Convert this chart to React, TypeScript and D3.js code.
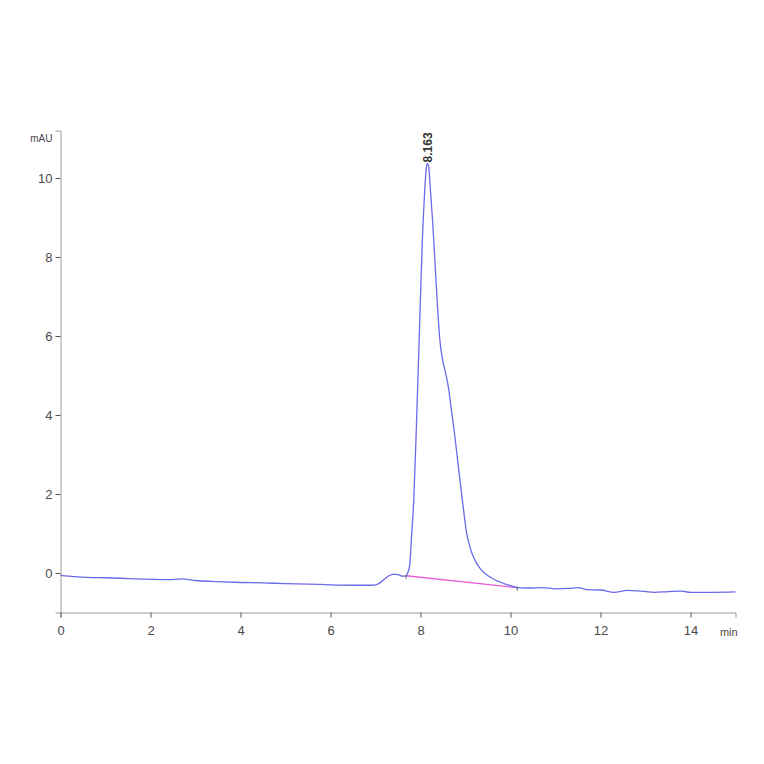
import React, { useEffect, useRef } from "react";
import * as d3 from "d3";

// Chromatogram data (time in min, signal in mAU)
const times: number[] = [
  0, 0.3, 0.6, 1.0, 1.5, 2.0, 2.4, 2.7, 3.0, 3.5, 4.0, 4.5, 5.0, 5.5, 6.0, 6.5, 6.9,
  7.0, 7.1, 7.2, 7.3, 7.4, 7.5, 7.6, 7.68,
  7.72, 7.76, 7.80, 7.85, 7.90, 7.97, 8.04, 8.09, 8.12, 8.15, 8.18, 8.22, 8.27, 8.32, 8.37,
  8.43, 8.50, 8.56, 8.62, 8.69, 8.76, 8.84, 8.93, 9.02, 9.10, 9.22, 9.35, 9.50, 9.65, 9.84, 10.0, 10.15,
  10.4, 10.7, 11.0, 11.3, 11.5, 11.7, 12.0, 12.3, 12.6, 12.9, 13.2, 13.5, 13.8, 14.0, 14.5, 15.0,
];
const signal: number[] = [
  -0.06, -0.09, -0.11, -0.12, -0.14, -0.16, -0.17, -0.15, -0.19, -0.22, -0.24, -0.25, -0.27, -0.28, -0.30, -0.31, -0.31,
  -0.30, -0.25, -0.15, -0.07, -0.03, -0.04, -0.08, -0.07,
  0.02, 0.2, 0.9, 1.85, 3.4, 5.9, 8.4, 9.6, 10.15, 10.37, 10.3, 9.7, 8.9, 7.9, 6.9,
  5.9, 5.35, 5.05, 4.7, 4.1, 3.5, 2.7, 1.85, 1.05, 0.65, 0.3, 0.08, -0.07, -0.17, -0.26, -0.32, -0.37,
  -0.38, -0.37, -0.40, -0.39, -0.37, -0.42, -0.43, -0.49, -0.44, -0.46, -0.49, -0.47, -0.46, -0.49, -0.49, -0.48,
];

// Integration baseline of the peak
const baseTimes: number[] = [7.68, 10.15];
const baseValues: number[] = [-0.07, -0.37];

// Peak annotation
const peakTime = 8.163;
const peakHeight = 10.37;
const peakLabel = "8.163";

const xMajorTicks: number[] = [0, 2, 4, 6, 8, 10, 12, 14];
const xMinorTicks: number[] = [0.5, 1, 1.5, 2.5, 3, 3.5, 4.5, 5, 5.5, 6.5, 7, 7.5, 8.5, 9, 9.5, 10.5, 11, 11.5, 12.5, 13, 13.5, 14.5, 15];
const yMajorTicks: number[] = [0, 2, 4, 6, 8, 10];
const yMinorTicks: number[] = [-1, -0.5, 0.5, 1, 1.5, 2.5, 3, 3.5, 4.5, 5, 5.5, 6.5, 7, 7.5, 8.5, 9, 9.5, 10.5, 11];
const yUnit = "mAU";
const xUnit = "min";

const FONT = "'Liberation Sans Narrow', 'Liberation Sans', Arial, sans-serif";

export default function App() {
  const ref = useRef<SVGSVGElement | null>(null);

  useEffect(() => {
    const svg = d3.select(ref.current);
    svg.selectAll("*").remove();

    const x = d3.scaleLinear().domain([0, 15]).range([60.5, 735.5]);
    const y = d3.scaleLinear().domain([-1, 11.2]).range([612.5, 130.6]);

    const axisColor = "#9a9a9a";
    const tickColor = "#555";
    const labelColor = "#4a4a4a";

    // X axis
    const gx = svg.append("g").attr("transform", `translate(0,${y(-1)})`);
    gx.call(
      d3.axisBottom(x).tickValues(xMinorTicks).tickSize(2).tickFormat(() => "") as any
    );
    gx.call(
      d3.axisBottom(x).tickValues(xMajorTicks).tickSize(5).tickPadding(8).tickFormat(d3.format("d")) as any
    );
    gx.selectAll(".domain").attr("stroke", axisColor);
    gx.selectAll(".tick line").attr("stroke", tickColor);
    gx.selectAll(".tick text").attr("fill", labelColor).attr("font-size", 13).attr("font-family", FONT);
    gx.append("text")
      .attr("x", x(14.85))
      .attr("y", 23)
      .attr("text-anchor", "middle")
      .attr("fill", labelColor)
      .attr("font-size", 11)
      .attr("font-family", FONT)
      .text(xUnit);

    // Y axis
    const gy = svg.append("g").attr("transform", `translate(${x(0)},0)`);
    gy.call(
      d3.axisLeft(y).tickValues(yMinorTicks).tickSize(2).tickFormat(() => "") as any
    );
    gy.call(
      d3.axisLeft(y).tickValues(yMajorTicks).tickSize(5).tickPadding(3).tickFormat(d3.format("d")) as any
    );
    gy.selectAll(".domain").attr("stroke", axisColor);
    gy.selectAll(".tick line").attr("stroke", tickColor);
    gy.selectAll(".tick text").attr("fill", labelColor).attr("font-size", 13).attr("font-family", FONT);
    gy.append("text")
      .attr("x", -8)
      .attr("y", y(11))
      .attr("dy", "0.35em")
      .attr("text-anchor", "end")
      .attr("fill", labelColor)
      .attr("font-size", 10)
      .attr("font-family", FONT)
      .text(yUnit);

    // Integration baseline
    const basePts = baseTimes.map((t, i) => [t, baseValues[i]] as [number, number]);
    svg.append("path")
      .attr("d", d3.line<[number, number]>().x((d) => x(d[0])).y((d) => y(d[1]))(basePts) || "")
      .attr("fill", "none")
      .attr("stroke", "#e860d8")
      .attr("stroke-width", 1.3);

    // Signal trace
    const pts = times.map((t, i) => [t, signal[i]] as [number, number]);
    svg.append("path")
      .attr(
        "d",
        d3.line<[number, number]>().x((d) => x(d[0])).y((d) => y(d[1])).curve(d3.curveMonotoneX)(pts) || ""
      )
      .attr("fill", "none")
      .attr("stroke", "#5a5ae8")
      .attr("stroke-width", 1.3)
      .attr("stroke-opacity", 0.9);

    // Peak start/end markers
    basePts.forEach((p) => {
      svg.append("line")
        .attr("x1", x(p[0])).attr("x2", x(p[0]))
        .attr("y1", y(p[1]) - 1).attr("y2", y(p[1]) + 3)
        .attr("stroke", "#555").attr("stroke-width", 1);
    });

    // Peak label
    svg.append("text")
      .attr("transform", `translate(${x(peakTime) + 4},${y(peakHeight) - 1}) rotate(-90)`)
      .attr("text-anchor", "start")
      .attr("fill", "#333")
      .attr("font-size", 12)
      .attr("font-weight", "bold")
      .attr("font-family", "'Liberation Sans', Arial, sans-serif")
      .text(peakLabel);
  }, []);

  return (
    <svg
      ref={ref}
      width={764}
      height={764}
      style={{ position: "absolute", left: 0, top: 0, background: "#fff", display: "block" }}
    />
  );
}
